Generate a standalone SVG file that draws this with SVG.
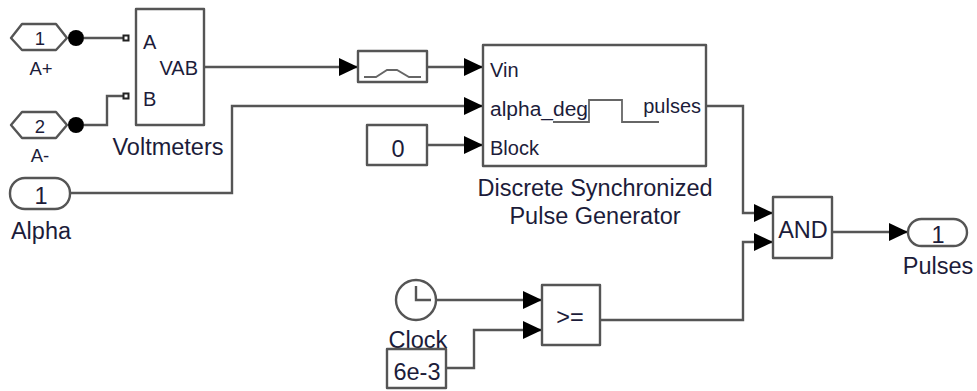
<svg xmlns="http://www.w3.org/2000/svg" width="977" height="391" viewBox="0 0 977 391">
<style>
.b{fill:#fff;stroke:#555;stroke-width:2.4;stroke-linejoin:round}
.w{fill:none;stroke:#555;stroke-width:2.4;stroke-linejoin:miter}
.i{fill:none;stroke:#666;stroke-width:1.8}
text{font-family:"Liberation Sans",Arial,sans-serif;fill:#1c1c3a}
.l{font-size:23.500px}
.p{font-size:20px}
.s{font-size:18.500px}
.m{text-anchor:middle}
</style>
<defs>
<marker id="a" markerUnits="userSpaceOnUse" markerWidth="19" markerHeight="18" refX="19" refY="9" orient="auto"><path d="M0 0L19 9L0 18Z" fill="#000"/></marker>
</defs>
<rect width="977" height="391" fill="#fff"/>
<g id="connectors">
<path class="w" d="M84 38H123"/>
<path class="w" d="M84 125H107V96H123"/>
<path class="w" d="M204 67H358" marker-end="url(#a)"/>
<path class="w" d="M427 67H483" marker-end="url(#a)"/>
<path class="w" d="M71 193H232V106H483" marker-end="url(#a)"/>
<path class="w" d="M427 145H483" marker-end="url(#a)"/>
<path class="w" d="M706 106H743V213H773" marker-end="url(#a)"/>
<path class="w" d="M600 320H743V242H773" marker-end="url(#a)"/>
<path class="w" d="M832 232H908" marker-end="url(#a)"/>
<path class="w" d="M437 300H542" marker-end="url(#a)"/>
<path class="w" d="M446 368H474V330H542" marker-end="url(#a)"/>
</g>
<g id="inport-a-plus">
<path class="b" d="M11 38L22 24H56L67 38L56 50H22Z"/>
<text class="s m" x="40" y="45">1</text>
<text class="s m" x="41" y="75">A+</text>
<circle cx="76" cy="38" r="8" fill="#000"/>
</g>
<g id="inport-a-minus">
<path class="b" d="M11 125L22 112H56L67 125L56 138H22Z"/>
<text class="s m" x="40" y="133">2</text>
<text class="s m" x="40" y="162">A-</text>
<circle cx="76" cy="125" r="8" fill="#000"/>
</g>
<g id="inport-alpha">
<rect class="b" x="10" y="178" width="60" height="31" rx="15" ry="15"/>
<text class="l m" x="41" y="204">1</text>
<text class="l m" x="41" y="239">Alpha</text>
</g>
<g id="voltmeters">
<rect class="b" x="136" y="9" width="68" height="116"/>
<rect x="123.500" y="35.500" width="5" height="5" fill="#fff" stroke="#222" stroke-width="2"/>
<rect x="123.500" y="93.500" width="5" height="5" fill="#fff" stroke="#222" stroke-width="2"/>
<text class="p" x="143" y="49">A</text>
<text class="p" x="143" y="106">B</text>
<text class="p" x="198" y="75" text-anchor="end">VAB</text>
<text class="l m" x="168" y="155">Voltmeters</text>
</g>
<g id="filter">
<rect class="b" x="358" y="51" width="69" height="31"/>
<path class="i" d="M364 77H376L387 70H397L409 77H421"/>
</g>
<g id="pulse-generator">
<rect class="b" x="483" y="45" width="223" height="121"/>
<path class="i" d="M553 122H589V100H622V122H659"/>
<text class="p" x="490" y="77">Vin</text>
<text class="p" x="490" y="116" textLength="98" lengthAdjust="spacingAndGlyphs">alpha_deg</text>
<text class="p" x="490" y="155">Block</text>
<text class="p" x="701" y="113" text-anchor="end">pulses</text>
<text class="l m" x="595" y="196">Discrete Synchronized</text>
<text class="l m" x="595" y="224">Pulse Generator</text>
</g>
<g id="constant-0">
<rect class="b" x="367" y="125" width="60" height="40"/>
<text class="l m" x="398" y="157">0</text>
</g>
<g id="and">
<rect class="b" x="773" y="197" width="59" height="61"/>
<text class="l m" x="803" y="238">AND</text>
</g>
<g id="outport-pulses">
<rect class="b" x="908" y="219" width="59" height="27" rx="13.500" ry="13.500"/>
<text class="l m" x="938" y="243">1</text>
<text class="l m" x="938" y="274">Pulses</text>
</g>
<g id="relational">
<rect class="b" x="542" y="285" width="58" height="60"/>
<text class="l m" x="570" y="325">&gt;=</text>
</g>
<g id="clock">
<circle class="b" cx="416" cy="300" r="20"/>
<path class="w" d="M416 286V300H431"/>
<text class="l m" x="418" y="348">Clock</text>
</g>
<g id="constant-6e-3">
<rect class="b" x="387" y="349" width="59" height="39"/>
<text class="l m" x="417" y="380">6e-3</text>
</g>
</svg>
